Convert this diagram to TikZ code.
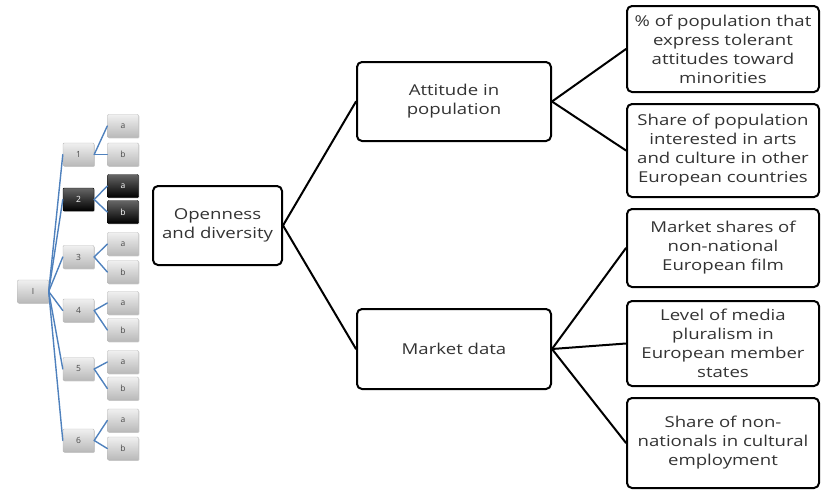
\documentclass[tikz,border=0pt]{standalone}
\usepackage{fontspec}
\setmainfont{Open Sans}[FakeStretch=1.24]
\newfontfamily\minifont{Open Sans}
\usepackage{xcolor}
\usetikzlibrary{shadows}

\definecolor{twigblue}{HTML}{4F81BD}

\tikzset{
  bigbox/.style={draw=black, line width=2pt, rounded corners=5pt, fill=white,
    align=center, text=black!80, font=\fontsize{15}{19}\selectfont, inner sep=1pt},
  leaf/.style={bigbox, minimum width=192pt},
  minibox/.style={draw=gray!55, top color=gray!12, bottom color=gray!55,
    minimum width=31pt, minimum height=23pt, inner sep=0pt, rounded corners=1pt,
    text=black!70, font=\minifont\fontsize{8.5}{9}\selectfont,
    drop shadow={shadow xshift=0.8pt, shadow yshift=-0.8pt, opacity=0.4}},
  darkbox/.style={minibox, draw=black, top color=black!60, bottom color=black,
    text=white},
  twig/.style={twigblue, line width=1.4pt},
  link/.style={black, line width=2pt},
}

\begin{document}
\begin{tikzpicture}[x=1pt, y=-1pt, line cap=round, line join=round]
  \useasboundingbox (0,0) rectangle (825,490);

  %--- Small outline tree (left) -------------------------------------------
  \node[minibox] (root) at (33,291.5) {I};
  \foreach \k/\yn/\ya/\yb in {1/154.5/126/154.5, 3/257/244/272,
                              4/310.5/303/330, 5/369/362/388.5,
                              6/440.5/420.5/448.5}{
    \node[minibox] (n\k) at (78.5,\yn) {\k};
    \node[minibox] (a\k) at (123,\ya)  {a};
    \node[minibox] (b\k) at (123,\yb)  {b};
  }
  \node[darkbox] (n2) at (78.5,199.5) {2};
  \node[darkbox] (a2) at (123,186)    {a};
  \node[darkbox] (b2) at (123,212)    {b};

  \foreach \k in {1,...,6}{
    \draw[twig] (root.east) -- (n\k.west);
    \draw[twig] (n\k.east) -- (a\k.west);
    \draw[twig] (n\k.east) -- (b\k.west);
  }

  %--- Main boxes ----------------------------------------------------------
  \node[bigbox, minimum width=129pt, minimum height=79pt] (Open) at (217.5,225.5)
       {Openness\\and diversity};
  \node[bigbox, minimum width=194pt, minimum height=79pt] (Att)  at (454,101.5)
       {Attitude in\\population};
  \node[bigbox, minimum width=194pt, minimum height=80pt] (Mkt)  at (454,349)
       {Market data};

  %--- Indicator boxes -----------------------------------------------------
  \node[leaf, minimum height=86pt] (T1) at (723,49)
       {\% of population that\\express tolerant\\attitudes toward\\minorities};
  \node[leaf, minimum height=93pt] (T2) at (723,150.5)
       {Share of population\\interested in arts\\and culture in other\\European countries};
  \node[leaf, minimum height=78pt] (T3) at (723,248)
       {Market shares of\\non-national\\European film};
  \node[leaf, minimum height=85pt] (T4) at (723,343.5)
       {Level of media\\pluralism in\\European member\\states};
  \node[leaf, minimum height=90pt] (T5) at (723,443)
       {Share of non-\\nationals in cultural\\employment};

  %--- Links ---------------------------------------------------------------
  \draw[link] (Open.east) -- (Att.west);
  \draw[link] (Open.east) -- (Mkt.west);
  \draw[link] (Att.east)  -- (T1.west);
  \draw[link] (Att.east)  -- (T2.west);
  \draw[link] (Mkt.east)  -- (T3.west);
  \draw[link] (Mkt.east)  -- (T4.west);
  \draw[link] (Mkt.east)  -- (T5.west);

\end{tikzpicture}
\end{document}
